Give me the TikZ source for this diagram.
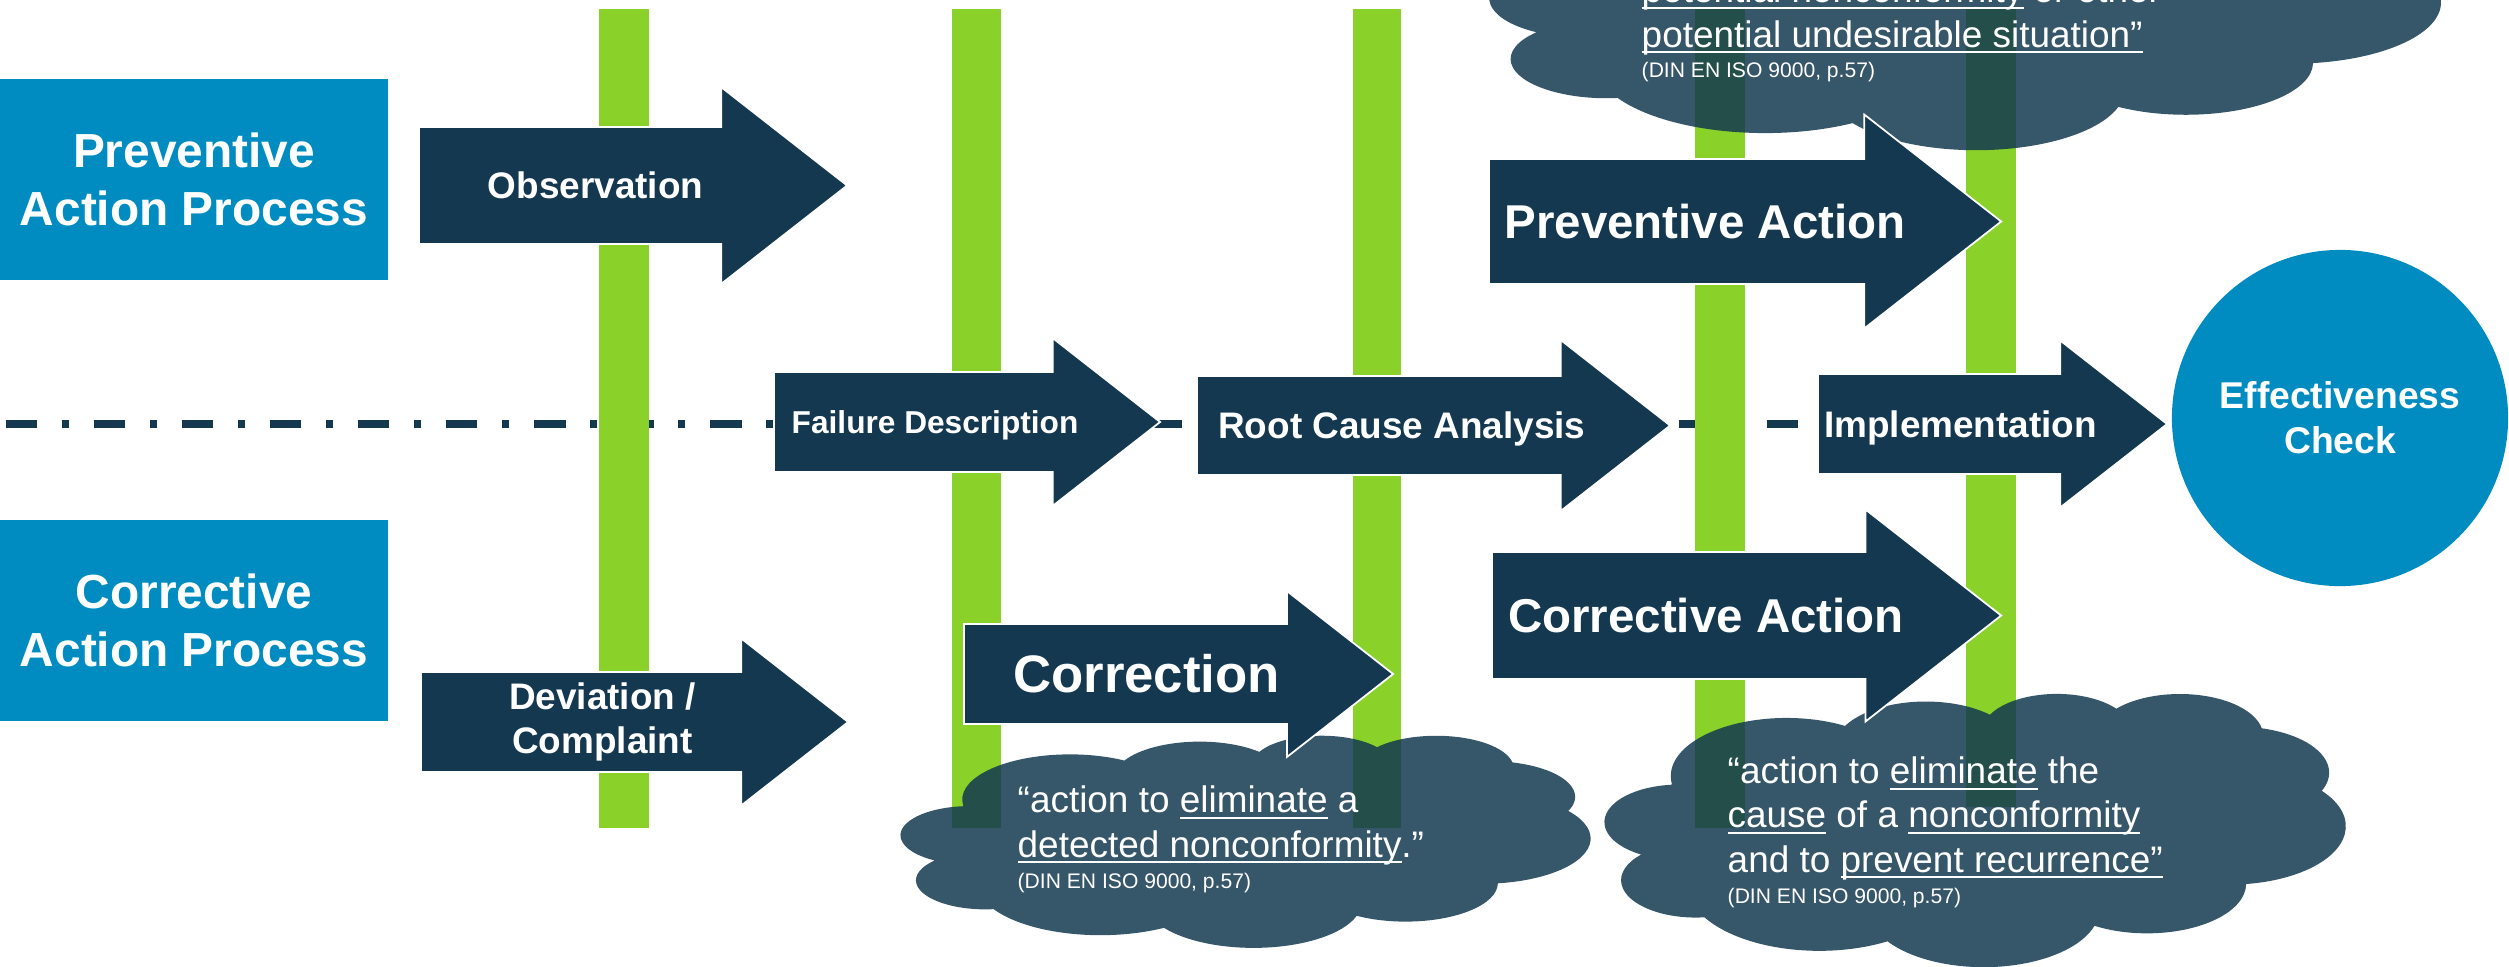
\documentclass[tikz,border=0pt]{standalone}
\usepackage{fontspec}
\setmainfont{Liberation Sans}
\usepackage{xcolor}
\definecolor{darknavy}{RGB}{19,56,79}
\definecolor{procblue}{RGB}{0,140,193}
\definecolor{limebar}{RGB}{138,210,42}
\usepackage{tikz}
\usetikzlibrary{shapes.arrows,positioning,backgrounds}
\newcommand{\undl}[1]{\setbox0\hbox{#1}\rlap{\rule[-1.8pt]{\wd0}{0.6pt}}\box0\relax}
% cloud outline in a 100 x 100 frame
\newcommand{\cloudoutline}{(9.028,33.264)
  arc[start angle=172.26, delta angle=128.10, x radius=15.632, y radius=21.273]
  arc[start angle=-152.02, delta angle=106.58, x radius=12.345, y radius=16.822]
  arc[start angle=-153.48, delta angle=116.16, x radius=10.104, y radius=13.762]
  arc[start angle=-139.70, delta angle=129.49, x radius=11.243, y radius=15.266]
  arc[start angle=-74.77, delta angle=97.98, x radius=12.345, y radius=16.836]
  arc[start angle=-37.53, delta angle=119.39, x radius=15.683, y radius=21.343]
  arc[start angle=0.46, delta angle=121.51, x radius=13.391, y radius=18.211]
  arc[start angle=16.85, delta angle=129.38, x radius=15.630, y radius=21.331]
  arc[start angle=58.98, delta angle=91.22, x radius=17.870, y radius=24.405]
  arc[start angle=83.31, delta angle=139.81, x radius=10.093, y radius=13.699]
  arc[start angle=120.36, delta angle=143.75, x radius=10.058, y radius=13.762]
  -- cycle}

\begin{document}
\begin{tikzpicture}[
    x=0.01cm, y=-0.01cm,
    procbox/.style={rectangle, fill=procblue, text=white, minimum width=3.88cm, minimum height=2.01cm, align=center, font=\fontsize{13.6}{16.5}\selectfont\bfseries},
    blockarrow/.style={single arrow, anchor=tail, fill=darknavy, draw=white, line width=0.5pt, text=white, single arrow tip angle=76, single arrow head indent=0pt, inner xsep=0pt, inner ysep=0pt},
    cloudfill/.style={fill=darknavy, fill opacity=0.85},
    quotetext/.style={anchor=base west, inner sep=0pt, text=white, align=left, font=\fontsize{10.5}{12.6}\selectfont},
    citetext/.style={anchor=base west, inner sep=0pt, text=white, font=\fontsize{6}{7}\selectfont},
    bar/.style={fill=limebar}
]
\useasboundingbox (0,0) rectangle (2509,966);
\clip (0,0) rectangle (2509,966);

% process boxes
\node[procbox] (prevproc) at (194,179.5) {Preventive\\Action Process};
\node[procbox] (corrproc) at (194,620.5) {Corrective\\Action Process};

% clouds with the definitions
\fill[cloudfill, shift={(1490,-137)}, x=0.0950cm, y=-0.0286cm] \cloudoutline;
\fill[cloudfill, shift={(901,735)}, x=0.0689cm, y=-0.0212cm] \cloudoutline;
\fill[cloudfill, shift={(1605,693)}, x=0.0740cm, y=-0.0273cm] \cloudoutline;

% steps
\node[blockarrow, minimum height=4.28cm, single arrow head extend=0.40cm, text height=0.707cm, text depth=0.443cm, font=\fontsize{10.5}{12.6}\selectfont\bfseries] (observ) at (418,185.5) {Observation};
\node[blockarrow, minimum height=4.27cm, single arrow head extend=0.335cm, inner ysep=0.1cm, align=center, font=\fontsize{10.5}{12.5}\selectfont\bfseries] (deviat) at (420,722) {Deviation /\\Complaint};
\node[blockarrow, minimum height=3.86cm, single arrow head extend=0.34cm, text height=0.603cm, text depth=0.377cm, font=\fontsize{9}{11}\selectfont\bfseries] (failure) at (773,422) {Failure Description};
\node[blockarrow, minimum height=4.73cm, single arrow head extend=0.36cm, text height=0.617cm, text depth=0.353cm, font=\fontsize{10.5}{12.6}\selectfont\bfseries] (rootcause) at (1196,425.5) {Root Cause Analysis};
\node[blockarrow, minimum height=3.49cm, single arrow head extend=0.335cm, text height=0.622cm, text depth=0.358cm, font=\fontsize{10.5}{12.6}\selectfont\bfseries] (impl) at (1817,424) {Implementation};
\node[blockarrow, minimum height=4.29cm, single arrow head extend=0.33cm, text height=0.679cm, text depth=0.301cm, font=\fontsize{15}{18}\selectfont\bfseries] (correct) at (963,674) {Correction};
\node[blockarrow, minimum height=5.12cm, single arrow head extend=0.445cm, text height=0.785cm, text depth=0.445cm, font=\fontsize{13.5}{16}\selectfont\bfseries] (prevact) at (1488,221.5) {Preventive Action};
\node[blockarrow, minimum height=5.09cm, single arrow head extend=0.425cm, text height=0.795cm, text depth=0.455cm, font=\fontsize{13.5}{16}\selectfont\bfseries] (corract) at (1491,615.5) {Corrective Action};

\node[circle, fill=procblue, minimum size=3.36cm, inner sep=0pt, align=center, text=white, font=\fontsize{10.6}{12.8}\selectfont\bfseries] (effcheck) at (2340,418) {Effectiveness\\Check};

% quotes
\node[quotetext] (paquote) at (1641,47) {\undl{potential nonconformity} or other\\\undl{potential undesirable situation”}};
\node[citetext] (pasrc) at (1641,77) {(DIN EN ISO 9000, p.57)};
\node[quotetext] (corrquote) at (1017,857) {“action to \undl{eliminate} a\\\undl{detected nonconformity}.”};
\node[citetext] (corrsrc) at (1017,888) {(DIN EN ISO 9000, p.57)};
\node[quotetext] (caquote) at (1727,872) {“action to \undl{eliminate} the\\\undl{cause} of a \undl{nonconformity}\\and to \undl{prevent recurrence”}};
\node[citetext] (casrc) at (1727,903) {(DIN EN ISO 9000, p.57)};

\begin{scope}[on background layer]
\coordinate (linestart) at (5.7,424);
\draw[darknavy, line width=0.08cm, dash pattern=on 0.315cm off 0.2475cm on 0.07cm off 0.2475cm] (linestart) -- (impl.tail);
\fill[bar] (599,9) rectangle (649,828);
\fill[bar] (952,9) rectangle (1001,828);
\fill[bar] (1353,9) rectangle (1401,828);
\fill[bar] (1695,9) rectangle (1745,828);
\fill[bar] (1966,9) rectangle (2016,807);
\end{scope}

\end{tikzpicture}
\end{document}
